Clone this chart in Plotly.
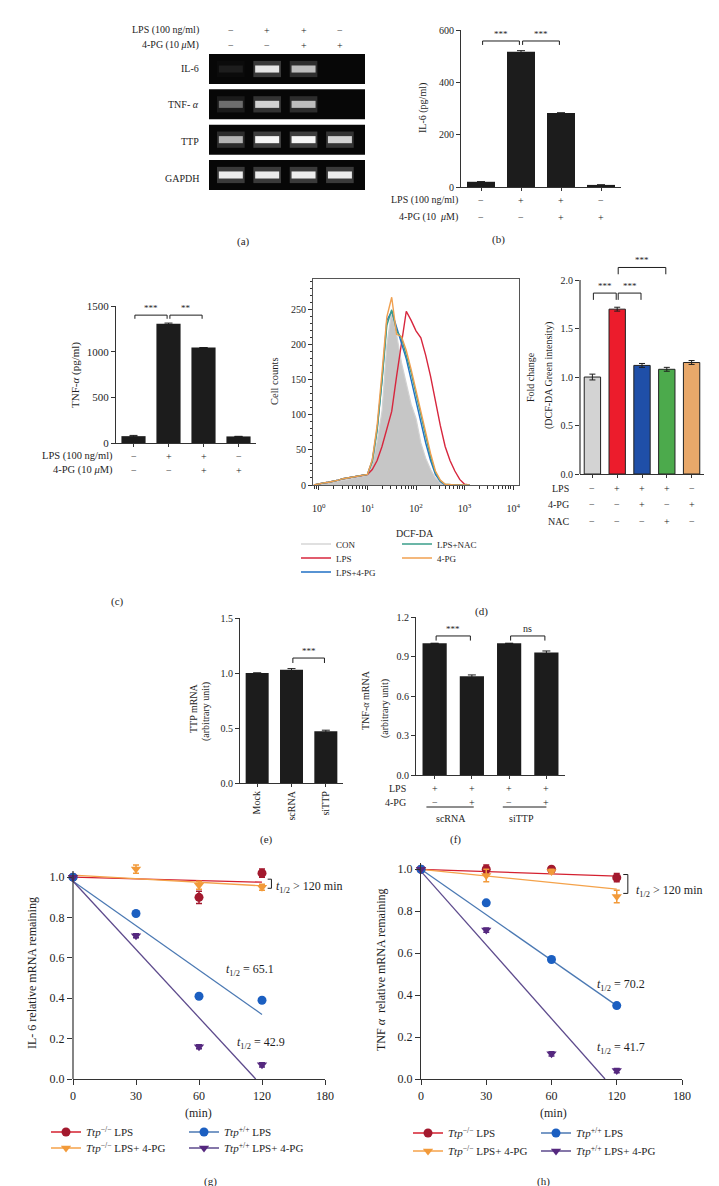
import math
import plotly.graph_objects as go

W, H = 719, 1186
FONT = "Liberation Serif"
INK = "#1e1e1e"
AX = "#333333"

def fx(p):
    return p / W

def fy(p):
    return 1 - p / H

# ======================= DATA =======================
# (a) RT-PCR gel: relative band brightness per lane
gel_genes = ["IL-6", "TNF- <i>α</i>", "TTP", "GAPDH"]
gel_lanes = [1, 2, 3, 4]
gel_il6 = [0.08, 0.92, 0.72, 0.0]
gel_tnf = [0.38, 0.82, 0.72, 0.0]
gel_ttp = [0.68, 1.00, 1.00, 0.82]
gel_gapdh = [0.95, 0.95, 0.95, 0.95]
lps_signs = ["−", "+", "+", "−"]
pg_signs = ["−", "−", "+", "+"]

# (b) IL-6 ELISA
il6_x = [0, 1, 2, 3]
il6_vals = [20, 517, 283, 8]
il6_err = [0, 4, 0, 0]

# (c) TNF-a ELISA
tnf_x = [0, 1, 2, 3]
tnf_vals = [75, 1305, 1045, 72]
tnf_err = [8, 8, 0, 0]

# (d) DCF-DA histogram (x = log10 intensity)
dcf_log = [-0.1, 0.0, 0.1, 0.2, 0.3, 0.4, 0.5, 0.6, 0.7, 0.8, 0.9, 1.0, 1.1,
           1.2, 1.3, 1.4, 1.5, 1.6, 1.7, 1.8, 1.9, 2.0, 2.1, 2.2, 2.3, 2.4,
           2.5, 2.6, 2.7, 2.8, 2.9, 3.0, 3.1]
hist_con = [0, 1, 2, 3, 4, 5, 7, 8, 10, 11, 12, 14, 30, 62, 105, 200, 248, 215,
            175, 145, 115, 95, 60, 38, 22, 10, 3, 0, 0, 0, 0, 0, 0]
hist_lps = [0, 2, 3, 4, 5, 7, 9, 10, 12, 13, 13, 15, 22, 35, 55, 80, 105, 155,
            205, 248, 235, 220, 210, 185, 155, 118, 85, 55, 35, 20, 8, 1, 0]
hist_lps_pg = [0, 2, 3, 4, 5, 7, 9, 10, 12, 13, 13, 15, 35, 80, 150, 235, 248,
               225, 205, 180, 150, 120, 90, 60, 35, 15, 5, 0, 0, 0, 0, 0, 0]
hist_lps_nac = [0, 2, 3, 4, 5, 7, 9, 10, 12, 13, 13, 15, 33, 78, 148, 228, 250,
                220, 210, 185, 160, 130, 100, 68, 40, 18, 6, 1, 0, 0, 0, 0, 0]
hist_pg = [0, 2, 3, 4, 5, 7, 9, 10, 12, 13, 13, 15, 36, 85, 160, 240, 268, 215,
           212, 192, 165, 135, 105, 75, 45, 20, 7, 1, 0, 0, 0, 0, 0]
hist_ticks = ["10<sup>0</sup>", "10<sup>1</sup>", "10<sup>2</sup>", "10<sup>3</sup>", "10<sup>4</sup>"]

# (d) fold change bars
ros_x = [0, 1, 2, 3, 4]
ros_vals = [1.00, 1.70, 1.12, 1.08, 1.15]
ros_err = [0.03, 0.02, 0.02, 0.02, 0.02]
ros_lps = ["−", "+", "+", "+", "−"]
ros_pg = ["−", "−", "+", "−", "+"]
ros_nac = ["−", "−", "−", "+", "−"]

# (e) TTP mRNA
ttp_cats = ["Mock", "scRNA", "siTTP"]
ttp_x = [0, 1, 2]
ttp_vals = [1.00, 1.03, 0.47]
ttp_err = [0, 0.01, 0.01]

# (f) TNF-a mRNA
tnfm_x = [0, 1, 2, 3]
tnfm_vals = [1.00, 0.75, 1.00, 0.93]
tnfm_err = [0, 0.01, 0, 0.012]
f_lps = ["+", "+", "+", "+"]
f_pg = ["−", "+", "−", "+"]
f_groups = ["scRNA", "siTTP"]

# (g)/(h) mRNA decay
time_labels = ["0", "30", "60", "120", "180"]
time_pos = [0, 1, 2, 3, 4]
pt_pos = [0, 1, 2, 3]

g_ko_lps = [1.00, None, 0.90, 1.02]
g_ko_lps_err = [0, 0, 0.03, 0.02]
g_ko_pg = [1.00, 1.04, 0.96, 0.95]
g_ko_pg_err = [0, 0.02, 0.02, 0.015]
g_wt_lps = [1.00, 0.82, 0.41, 0.39]
g_wt_lps_err = [0, 0.01, 0.01, 0.01]
g_wt_pg = [1.00, 0.71, 0.16, 0.07]
g_wt_pg_err = [0, 0.01, 0.01, 0.01]
g_fit_ko_lps = ([0, 3], [1.00, 0.975])
g_fit_ko_pg = ([0, 3], [1.01, 0.957])
g_fit_wt_lps = ([0, 3], [0.98, 0.32])
g_fit_wt_pg = ([0, 2.9], [0.98, 0.0])

h_ko_lps = [1.00, 1.00, 1.00, 0.96]
h_ko_lps_err = [0, 0.02, 0.01, 0.02]
h_ko_pg = [1.00, 0.97, 0.99, 0.87]
h_ko_pg_err = [0, 0.03, 0.01, 0.03]
h_wt_lps = [1.00, 0.84, 0.57, 0.35]
h_wt_lps_err = [0, 0.01, 0.01, 0.01]
h_wt_pg = [1.00, 0.71, 0.12, 0.04]
h_wt_pg_err = [0, 0.01, 0.01, 0.01]
h_fit_ko_lps = ([0, 3], [1.00, 0.967])
h_fit_ko_pg = ([0, 3], [1.00, 0.905])
h_fit_wt_lps = ([0, 3], [1.00, 0.35])
h_fit_wt_pg = ([0, 2.82], [0.99, 0.0])

decay_names = ["<i>Ttp</i><sup>−/−</sup> LPS", "<i>Ttp</i><sup>+/+</sup> LPS",
               "<i>Ttp</i><sup>−/−</sup> LPS+ 4-PG", "<i>Ttp</i><sup>+/+</sup> LPS+ 4-PG"]

# ======================= STYLE =======================
BARC = "#1c1c1c"
ROS_COLORS = ["#d3d3d3", "#ec1c2c", "#1f4fa8", "#4caa4c", "#e8a86a"]
H_CON, H_LPS, H_PG, H_NAC, H_4PG = "#c6c6c6", "#d7263d", "#1f6fc5", "#3a9e8a", "#f0a050"
KO_LPS_M, KO_LPS_L = "#a3192e", "#d4202f"
KO_PG_M, KO_PG_L = "#f29a3a", "#f4a24a"
WT_LPS_M, WT_LPS_L = "#1b5fc1", "#4b79b3"
WT_PG_M, WT_PG_L = "#55287f", "#5d4a8c"

fig = go.Figure()
shapes = []
ann = []


def T(x, y, s, size=10, xanchor="center", yanchor="middle", xref="paper", yref="paper", angle=0):
    if xref == "paper":
        x = fx(x)
    if yref == "paper":
        y = fy(y)
    ann.append(dict(x=x, y=y, xref=xref, yref=yref, text=s, showarrow=False,
                    xanchor=xanchor, yanchor=yanchor, textangle=angle,
                    font=dict(family=FONT, size=size, color=INK)))


def bracket(ax, i0, i1, yv, drop, label, size=9, gap=0.04):
    xa, ya = "x" + ax, "y" + ax
    a, b = i0 + gap, i1 - gap
    shapes.append(dict(type="path", xref=xa, yref=ya,
                       path=f"M {a},{yv - drop} L {a},{yv} L {b},{yv} L {b},{yv - drop}",
                       line=dict(color=INK, width=1)))
    T((i0 + i1) / 2, yv, label, size=size, yanchor="bottom", xref=xa, yref=ya)


def xax(dom, rng, **kw):
    d = dict(domain=[fx(dom[0]), fx(dom[1])], range=rng, showgrid=False, zeroline=False,
             showline=True, linecolor=AX, linewidth=1.2, ticks="outside", ticklen=4,
             tickwidth=1, tickcolor=AX, automargin=False, fixedrange=True,
             tickfont=dict(family=FONT, size=10, color=INK))
    d.update(kw)
    return d


def yax(dom, rng, **kw):
    d = dict(domain=[fy(dom[1]), fy(dom[0])], range=rng, showgrid=False, zeroline=False,
             showline=True, linecolor=AX, linewidth=1.2, ticks="outside", ticklen=4,
             tickwidth=1, tickcolor=AX, automargin=False, fixedrange=True,
             tickfont=dict(family=FONT, size=10, color=INK))
    d.update(kw)
    return d


# ======================= (a) gel =======================
gel_rows = [gel_il6, gel_tnf, gel_ttp, gel_gapdh]
for r, vals in enumerate(gel_rows):
    shapes.append(dict(type="rect", xref="x", yref="y", x0=0.4, x1=4.69, y0=r - 0.425,
                       y1=r + 0.425, fillcolor="#070707", line=dict(width=0), layer="below"))
    fig.add_trace(go.Bar(x=gel_lanes, y=[0.46] * 4, base=[r - 0.23] * 4, width=0.76,
                         marker=dict(color=[f"rgba(255,255,255,{0.22 * v:.3f})" for v in vals],
                                     line=dict(width=0)),
                         xaxis="x", yaxis="y", showlegend=False, hoverinfo="skip"))
    fig.add_trace(go.Bar(x=gel_lanes, y=[0.2] * 4, base=[r - 0.1] * 4, width=0.66,
                         marker=dict(color=[f"rgba(245,245,245,{v:.3f})" for v in vals],
                                     line=dict(width=0)),
                         xaxis="x", yaxis="y", showlegend=False, hoverinfo="skip"))

T(193, 22, "LPS (100 ng/ml)", size=10, xanchor="right")
T(193, 37, "4-PG (10 <i>μ</i>M)", size=10, xanchor="right")
for lane, s1, s2 in zip(gel_lanes, lps_signs, pg_signs):
    T(lane, 22, s1, size=10, xref="x")
    T(lane, 37, s2, size=10, xref="x")
for name, yp in zip(gel_genes, [61, 96, 133, 170]):
    T(193, yp, name, size=10, xanchor="right")
T(235, 233, "(a)", size=11)

# ======================= (b) IL-6 =======================
fig.add_trace(go.Bar(x=il6_x, y=il6_vals, width=0.7, marker=dict(color=BARC, line=dict(width=0)),
                     error_y=dict(type="data", array=il6_err, color=INK, thickness=1, width=4),
                     xaxis="x2", yaxis="y2", showlegend=False))
bracket("2", 0, 1, 558, 15, "***")
bracket("2", 1, 2, 558, 15, "***")
T(415, 100, "IL-6 (pg/ml)", size=10, angle=-90)
T(452, 192, "LPS (100 ng/ml)", size=10, xanchor="right")
T(452, 209, "4-PG (10  <i>μ</i>M)", size=10, xanchor="right")
for i, s1, s2 in zip(il6_x, lps_signs, pg_signs):
    T(i, 192, s1, size=10, xref="x2")
    T(i, 209, s2, size=10, xref="x2")
T(490, 231, "(b)", size=11)

# ======================= (c) TNF-a =======================
fig.add_trace(go.Bar(x=tnf_x, y=tnf_vals, width=0.69, marker=dict(color=BARC, line=dict(width=0)),
                     error_y=dict(type="data", array=tnf_err, color=INK, thickness=1, width=4),
                     xaxis="x3", yaxis="y3", showlegend=False))
bracket("3", 0, 1, 1400, 40, "***")
bracket("3", 1, 2, 1400, 40, "**")
T(67, 367, "TNF-<i>α</i> (pg/ml)", size=11, angle=-90)
T(107, 448, "LPS (100 ng/ml)", size=10.5, xanchor="right")
T(107, 462, "4-PG (10 <i>μ</i>M)", size=10.5, xanchor="right")
for i, s1, s2 in zip(tnf_x, lps_signs, pg_signs):
    T(i, 448, s1, size=10, xref="x3")
    T(i, 462, s2, size=10, xref="x3")
T(110, 593, "(c)", size=11)

# ======================= (d) histogram =======================
fig.add_trace(go.Scatter(x=dcf_log, y=hist_con, mode="lines", name="CON", fill="tozeroy",
                         fillcolor=H_CON, line=dict(color="#d2d2d2", width=1.2),
                         xaxis="x4", yaxis="y4", showlegend=False))
fig.add_trace(go.Scatter(x=[None], y=[None], mode="lines", name="CON",
                         line=dict(color="#d6d6d6", width=1.4), xaxis="x4", yaxis="y4", legend="legend"))
fig.add_trace(go.Scatter(x=dcf_log, y=hist_lps, mode="lines", name="LPS",
                         line=dict(color=H_LPS, width=1.4), xaxis="x4", yaxis="y4", legend="legend2"))
fig.add_trace(go.Scatter(x=dcf_log, y=hist_lps_pg, mode="lines", name="LPS+4-PG",
                         line=dict(color=H_PG, width=1.4), xaxis="x4", yaxis="y4", legend="legend3"))
fig.add_trace(go.Scatter(x=dcf_log, y=hist_lps_nac, mode="lines", name="LPS+NAC",
                         line=dict(color=H_NAC, width=1.4), xaxis="x4", yaxis="y4", legend="legend"))
fig.add_trace(go.Scatter(x=dcf_log, y=hist_pg, mode="lines", name="4-PG",
                         line=dict(color=H_4PG, width=1.4), xaxis="x4", yaxis="y4", legend="legend2"))
T(267, 373, "Cell counts", size=10.5, angle=-90)
T(407, 525, "DCF-DA", size=10)
T(473, 603, "(d)", size=11)

# ======================= (d) fold-change bars =======================
fig.add_trace(go.Bar(x=ros_x, y=ros_vals, width=0.66,
                     marker=dict(color=ROS_COLORS, line=dict(color="#222222", width=1)),
                     error_y=dict(type="data", array=ros_err, color=INK, thickness=1, width=3),
                     xaxis="x5", yaxis="y5", showlegend=False))
shapes.append(dict(type="line", xref="x5 domain", yref="y5", x0=0, x1=0, y0=0, y1=2.0,
                   line=dict(color=AX, width=1.2)))
bracket("5", 0, 1, 1.866, 0.07, "***")
bracket("5", 1, 2, 1.866, 0.07, "***")
bracket("5", 1, 3, 2.13, 0.07, "***")
T(522, 369, "Fold change", size=10, angle=-90)
T(541, 368, "(DCF-DA Green intensity)", size=10, angle=-90)
for lab, row, yp in [("LPS", ros_lps, 480), ("4-PG", ros_pg, 496), ("NAC", ros_nac, 513)]:
    T(563, yp, lab, size=10, xanchor="right")
    for i, s in zip(ros_x, row):
        T(i, yp, s, size=10, xref="x5")

# ======================= (e) TTP mRNA =======================
fig.add_trace(go.Bar(x=ttp_x, y=ttp_vals, width=0.67, marker=dict(color=BARC, line=dict(width=0)),
                     error_y=dict(type="data", array=ttp_err, color=INK, thickness=1, width=4),
                     xaxis="x6", yaxis="y6", showlegend=False))
bracket("6", 1, 2, 1.136, 0.045, "***")
T(185, 700, "TTP mRNA", size=10, angle=-90)
T(198, 704, "(arbitrary unit)", size=10, angle=-90)
T(258, 831, "(e)", size=11)

# ======================= (f) TNF-a mRNA =======================
fig.add_trace(go.Bar(x=tnfm_x, y=tnfm_vals, width=0.65, marker=dict(color=BARC, line=dict(width=0)),
                     error_y=dict(type="data", array=tnfm_err, color=INK, thickness=1, width=4),
                     xaxis="x7", yaxis="y7", showlegend=False))
bracket("7", 0, 1, 1.056, 0.035, "***")
bracket("7", 2, 3, 1.056, 0.035, "ns", size=10)
T(357, 692, "TNF-<i>α</i> mRNA", size=10, angle=-90)
T(377, 700, "(arbitrary unit)", size=10, angle=-90)
T(400, 780, "LPS", size=10, xanchor="right")
T(400, 794, "4-PG", size=10, xanchor="right")
for i, s1, s2 in zip(tnfm_x, f_lps, f_pg):
    T(i, 780, s1, size=10, xref="x7")
    T(i, 794, s2, size=10, xref="x7")
for (a, b), gname, gx in zip([(-0.22, 1.05), (1.83, 3.0)], f_groups, [443, 513]):
    shapes.append(dict(type="line", xref="x7", yref="paper", x0=a, x1=b, y0=fy(799), y1=fy(799),
                       line=dict(color=INK, width=1)))
    T(gx, 810, gname, size=10)
T(447, 831, "(f)", size=11)


# ======================= (g)/(h) decay =======================
def decay_panel(ax, fits, series, leg_rows):
    xa, ya = "x" + ax, "y" + ax
    for (fxv, fyv), col in zip(fits, [KO_LPS_L, KO_PG_L, WT_LPS_L, WT_PG_L]):
        fig.add_trace(go.Scatter(x=fxv, y=fyv, mode="lines", line=dict(color=col, width=1.3),
                                 xaxis=xa, yaxis=ya, showlegend=False, hoverinfo="skip"))
    for vals, err, sym, col in series:
        fig.add_trace(go.Scatter(x=pt_pos, y=vals, mode="markers", cliponaxis=False,
                                 marker=dict(symbol=sym, size=9, color=col),
                                 error_y=dict(type="data", array=err, color=col, thickness=1.5, width=3),
                                 xaxis=xa, yaxis=ya, showlegend=False))
    styles = [(KO_LPS_M, KO_LPS_L, "circle"), (WT_LPS_M, WT_LPS_L, "circle"),
              (KO_PG_M, KO_PG_L, "triangle-down"), (WT_PG_M, WT_PG_L, "triangle-down")]
    for k in range(4):
        mc, lc, sym = styles[k]
        fig.add_trace(go.Scatter(x=[None], y=[None], mode="lines+markers", name=decay_names[k],
                                 marker=dict(symbol=sym, size=9, color=mc),
                                 line=dict(color=lc, width=1.3), xaxis=xa, yaxis=ya,
                                 legend=leg_rows[0] if k < 2 else leg_rows[1]))


decay_panel("8", [g_fit_ko_lps, g_fit_ko_pg, g_fit_wt_lps, g_fit_wt_pg],
            [(g_ko_lps, g_ko_lps_err, "circle", KO_LPS_M), (g_ko_pg, g_ko_pg_err, "triangle-down", KO_PG_M),
             (g_wt_lps, g_wt_lps_err, "circle", WT_LPS_M), (g_wt_pg, g_wt_pg_err, "triangle-down", WT_PG_M)],
            ["legend4", "legend5"])
decay_panel("9", [h_fit_ko_lps, h_fit_ko_pg, h_fit_wt_lps, h_fit_wt_pg],
            [(h_ko_lps, h_ko_lps_err, "circle", KO_LPS_M), (h_ko_pg, h_ko_pg_err, "triangle-down", KO_PG_M),
             (h_wt_lps, h_wt_lps_err, "circle", WT_LPS_M), (h_wt_pg, h_wt_pg_err, "triangle-down", WT_PG_M)],
            ["legend6", "legend7"])

# y-axis line of (g) stops at 1.03 while the range leaves room for the 30-min point above it
shapes.append(dict(type="line", xref="x8 domain", yref="y8", x0=0, x1=0, y0=0, y1=1.03,
                   line=dict(color=AX, width=1.2)))

T1 = "<i>t</i><sub>1/2</sub>"
# (g)
T(24, 965, "IL- 6 relative mRNA remaining", size=12, angle=-90)
T(242, 962, T1 + " = 65.1", size=12)
T(253, 1035, T1 + " = 42.9", size=12)
shapes.append(dict(type="path", xref="x8", yref="y8",
                   path="M 3.09,0.99 L 3.15,0.99 L 3.15,0.945 L 3.09,0.945",
                   line=dict(color=INK, width=1)))
T(266, 879, T1 + " > 120 min", size=12, xanchor="left")
T(190, 1105, "(min)", size=12)
T(202, 1173, "(g)", size=11)
# (h)
T(373, 962, "TNF <i>α</i>  relative mRNA remaining", size=12, angle=-90)
T(613, 977, T1 + " = 70.2", size=12)
T(613, 1040, T1 + " = 41.7", size=12)
shapes.append(dict(type="path", xref="x9", yref="y9",
                   path="M 3.1,0.975 L 3.17,0.975 L 3.17,0.885 L 3.1,0.885",
                   line=dict(color=INK, width=1)))
T(626, 883, T1 + " > 120 min", size=12, xanchor="left")
T(545, 1105, "(min)", size=12)
T(535, 1173, "(h)", size=11)


# ======================= LAYOUT =======================
def leg(xp, yp, ew, size):
    return dict(orientation="h", x=fx(xp), y=fy(yp), xanchor="left", yanchor="middle",
                entrywidth=ew, entrywidthmode="pixels", itemwidth=30, tracegroupgap=0,
                font=dict(family=FONT, size=size, color=INK), bgcolor="rgba(0,0,0,0)", borderwidth=0)


minor_log = [math.log10(k * 10 ** d) for d in range(-1, 4) for k in range(2, 10)]
minor_log = [v for v in minor_log if -0.12 < v < 4.12 and abs(v - round(v)) > 1e-9]

layout = dict(
    width=W, height=H, margin=dict(l=0, r=0, t=0, b=0),
    paper_bgcolor="white", plot_bgcolor="rgba(0,0,0,0)", barmode="overlay",
    font=dict(family=FONT, size=10, color=INK), showlegend=True,
    xaxis=dict(domain=[fx(201), fx(357)], range=[0.4, 4.69], visible=False, fixedrange=True),
    yaxis=dict(domain=[fy(182), fy(46)], range=[3.425, -0.425], visible=False, fixedrange=True),
    xaxis2=xax((453, 613), [-0.5, 3.5], anchor="y2", tickvals=il6_x, showticklabels=False, ticklen=3),
    yaxis2=yax((22, 179), [0, 600], anchor="x2", tickvals=[0, 200, 400, 600]),
    xaxis3=xax((108, 248), [-0.5, 3.5], anchor="y3", tickvals=tnf_x, showticklabels=False, ticklen=3),
    yaxis3=yax((298, 435), [0, 1500], anchor="x3", tickvals=[0, 500, 1000, 1500],
               tickfont=dict(family=FONT, size=11, color=INK)),
    xaxis4=xax((305, 511), [-0.12, 4.12], anchor="y4", mirror=True, linecolor="#555555",
               tickvals=[0, 1, 2, 3, 4], ticktext=hist_ticks, ticklabelstandoff=10,
               minor=dict(tickvals=minor_log, ticks="outside", ticklen=3, tickcolor=AX)),
    yaxis4=yax((271, 477), [0, 294], anchor="x4", mirror=True, linecolor="#555555",
               tickvals=[0, 50, 100, 150, 200, 250],
               minor=dict(dtick=10, tick0=0, ticks="outside", ticklen=2, tickcolor=AX)),
    xaxis5=xax((572, 696), [-0.5, 4.5], anchor="y5", tickvals=ros_x, showticklabels=False, ticklen=3),
    yaxis5=yax((243, 466), [0, 2.3], anchor="x5", showline=False,
               tickvals=[0, 0.5, 1.0, 1.5, 2.0], tickformat=".1f"),
    xaxis6=xax((232, 335), [-0.5, 2.5], anchor="y6", tickvals=ttp_x, ticktext=ttp_cats,
               tickangle=-90, ticklen=3),
    yaxis6=yax((610, 775), [0, 1.5], anchor="x6", tickvals=[0, 0.5, 1.0, 1.5], tickformat=".1f"),
    xaxis7=xax((408, 557), [-0.5, 3.5], anchor="y7", tickvals=tnfm_x, showticklabels=False, ticklen=3),
    yaxis7=yax((609, 767), [0, 1.2], anchor="x7", tickvals=[0, 0.3, 0.6, 0.9, 1.2], tickformat=".1f"),
    xaxis8=xax((65, 317), [0, 4], anchor="y8", tickvals=time_pos, ticktext=time_labels, ticklen=5,
               tickfont=dict(family=FONT, size=12, color=INK)),
    yaxis8=yax((851, 1071), [0, 1.09], anchor="x8", tickvals=[0, 0.2, 0.4, 0.6, 0.8, 1.0],
               showline=False, tickformat=".1f", ticklen=5,
               tickfont=dict(family=FONT, size=12, color=INK)),
    xaxis9=xax((413, 674), [0, 4], anchor="y9", tickvals=time_pos, ticktext=time_labels, ticklen=5,
               tickfont=dict(family=FONT, size=12, color=INK)),
    yaxis9=yax((855, 1071), [0, 1.03], anchor="x9", tickvals=[0, 0.2, 0.4, 0.6, 0.8, 1.0],
               tickformat=".1f", ticklen=5, tickfont=dict(family=FONT, size=12, color=INK)),
    legend=leg(288, 536, 56, 9),
    legend2=leg(288, 550, 56, 9),
    legend3=leg(288, 564, 56, 9),
    legend4=leg(38, 1124, 93, 11),
    legend5=leg(38, 1140, 93, 11),
    legend6=leg(400, 1125, 83, 11),
    legend7=leg(400, 1143, 83, 11),
    shapes=shapes,
    annotations=ann,
)
fig.update_layout(**layout)
fig.write_html("out.html")
